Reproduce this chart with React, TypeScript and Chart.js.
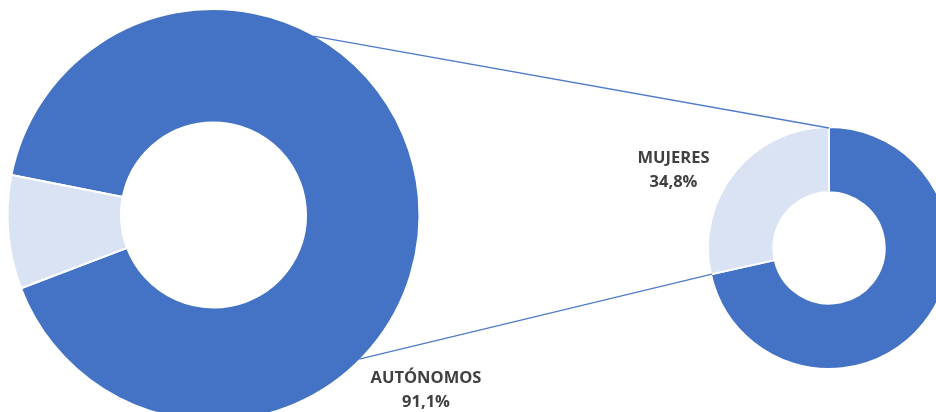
import React, { useEffect, useRef } from "react";
import { Chart, registerables } from "chart.js";

Chart.register(...registerables);

// ---- data ----
const bigCategories = ["Autónomos", "Resto"];
const bigValues = [91.1, 8.9];
const smallCategories = ["Mujeres", "Hombres"];
// shares as drawn in the reference picture
const smallValues = [71.5, 28.5];
const labelTitles = ["AUTÓNOMOS", "MUJERES"];
const labelValues = ["91,1%", "34,8%"];

const DARK = "#4472C4";
const LIGHT = "#DAE3F3";

function makeDonut(canvas: HTMLCanvasElement, labels: string[], values: number[], rotation: number, radius: number, cutout: string) {
  return new Chart(canvas, {
    type: "doughnut",
    data: {
      labels,
      datasets: [
        {
          data: values,
          backgroundColor: [DARK, LIGHT],
          borderColor: "#ffffff",
          borderWidth: 2,
          hoverOffset: 0,
        },
      ],
    },
    options: {
      responsive: false,
      animation: false,
      rotation,
      radius,
      cutout,
      layout: { padding: 0 },
      plugins: { legend: { display: false }, tooltip: { enabled: false } },
      events: [],
    },
  });
}

export default function App() {
  const bigRef = useRef<HTMLCanvasElement>(null);
  const smallRef = useRef<HTMLCanvasElement>(null);
  const overlayRef = useRef<HTMLCanvasElement>(null);

  useEffect(() => {
    const big = makeDonut(bigRef.current!, bigCategories, bigValues, -78.8, 206, "44.9%");
    const small = makeDonut(smallRef.current!, smallCategories, smallValues, 0, 121, "46%");

    const ov = overlayRef.current!;
    const ctx = ov.getContext("2d")!;
    ctx.clearRect(0, 0, ov.width, ov.height);

    const bigCanvasLeft = 0, bigCanvasTop = 0;
    const smallCanvasLeft = 704, smallCanvasTop = 123;
    const bArc: any = big.getDatasetMeta(0).data[0];
    const sArc: any = small.getDatasetMeta(0).data[0];
    const bx = bArc.x + bigCanvasLeft, by = bArc.y + bigCanvasTop, br = bArc.outerRadius - 1;
    const sx = sArc.x + smallCanvasLeft, sy = sArc.y + smallCanvasTop, sr = sArc.outerRadius - 1;
    const toRad = (deg: number) => ((deg - 90) * Math.PI) / 180;
    const topA = toRad(29.2), botA = toRad(134.7);
    const p1 = [bx + br * Math.cos(topA), by + br * Math.sin(topA)];
    const p2 = [sx + sr * Math.cos(sArc.startAngle), sy + sr * Math.sin(sArc.startAngle)];
    const p3 = [bx + br * Math.cos(botA), by + br * Math.sin(botA)];
    const p4 = [sx + sr * Math.cos(sArc.endAngle), sy + sr * Math.sin(sArc.endAngle)];
    ctx.strokeStyle = "#4F7BC8";
    ctx.lineWidth = 1.3;
    ctx.beginPath();
    ctx.moveTo(p1[0], p1[1]);
    ctx.lineTo(p2[0], p2[1]);
    ctx.moveTo(p3[0], p3[1]);
    ctx.lineTo(p4[0], p4[1]);
    ctx.stroke();

    return () => {
      big.destroy();
      small.destroy();
    };
  }, []);

  const labelStyle: React.CSSProperties = {
    position: "absolute",
    transform: "translateX(-50%)",
    textAlign: "center",
    fontFamily: "'Open Sans', sans-serif",
    fontWeight: 700,
    fontSize: 16.5,
    lineHeight: "23.5px",
    color: "#404040",
    whiteSpace: "nowrap",
  };

  return (
    <div
      style={{
        position: "fixed",
        left: 0,
        top: 0,
        width: 936,
        height: 412,
        overflow: "hidden",
        background: "#ffffff",
      }}
    >
      <canvas ref={bigRef} width={427} height={430} style={{ position: "absolute", left: 0, top: 0 }} />
      <canvas ref={smallRef} width={250} height={250} style={{ position: "absolute", left: 704, top: 123 }} />
      <canvas ref={overlayRef} width={936} height={412} style={{ position: "absolute", left: 0, top: 0, pointerEvents: "none" }} />
      <div style={{ ...labelStyle, left: 673.5, top: 145 }}>
        {labelTitles[1]}
        <br />
        {labelValues[1]}
      </div>
      <div style={{ ...labelStyle, left: 426, top: 365 }}>
        {labelTitles[0]}
        <br />
        {labelValues[0]}
      </div>
    </div>
  );
}
